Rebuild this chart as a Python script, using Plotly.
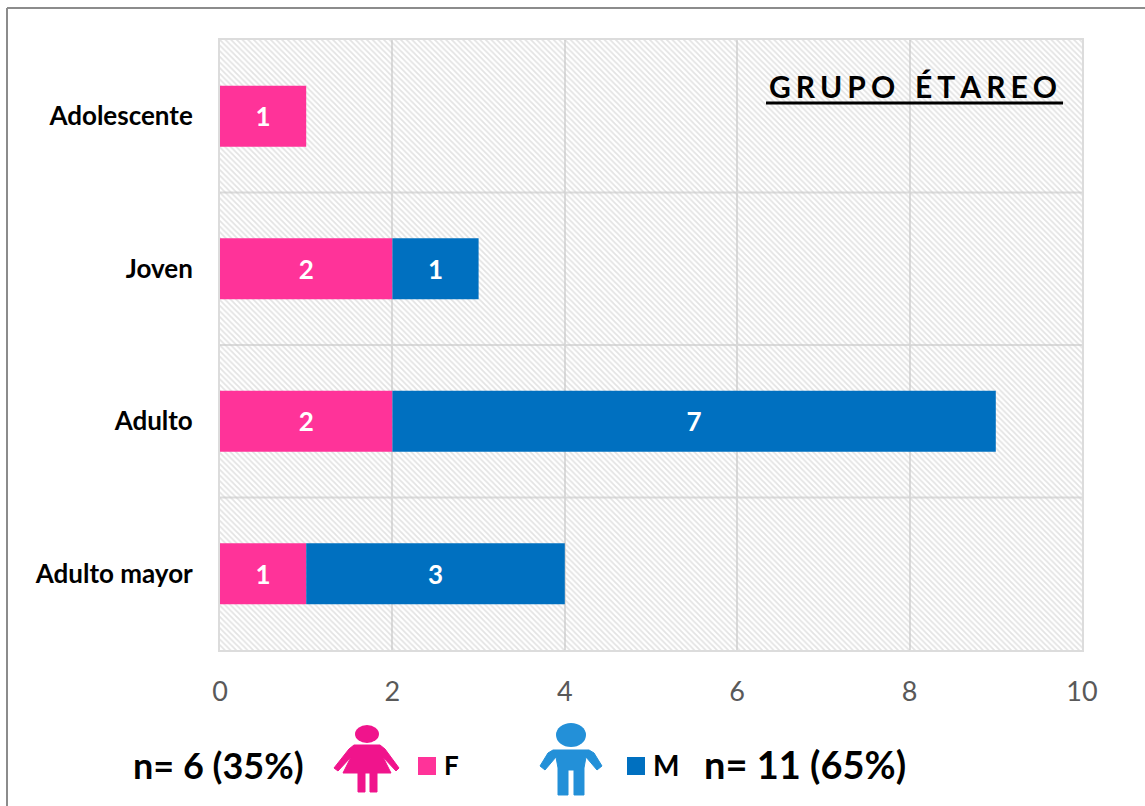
import plotly.graph_objects as go

# Data
categories = ["Adolescente", "Joven", "Adulto", "Adulto mayor"]
female = [1, 2, 2, 1]
male = [0, 1, 7, 3]
x_ticks = [0, 2, 4, 6, 8, 10]
x_max = 10
title_text = "G\u2006R\u2006U\u2006P\u2006O\u2006\u2006\u2006\u2006É\u2006T\u2006A\u2006R\u2006E\u2006O"
female_note = "n= 6 (35%)"
male_note = "n= 11 (65%)"

W, H = 1145, 806
PINK, BLUE = "#FF3399", "#0070C0"
FONT = "Lato"


def px(x):
    return x / W


def py(y):
    return 1 - y / H


def path(points):
    return "M " + " L ".join(f"{px(a):.5f},{py(b):.5f}" for a, b in points) + " Z"


def ellipse(cx, cy, rx, ry, color):
    return dict(type="circle", xref="paper", yref="paper", x0=px(cx - rx), x1=px(cx + rx),
                y0=py(cy + ry), y1=py(cy - ry), fillcolor=color, line_width=0, layer="above")


def poly(points, color):
    return dict(type="path", xref="paper", yref="paper", path=path(points), fillcolor=color,
                line=dict(color=color, width=1), layer="above")


def rect(x0, y0, x1, y1, color):
    return dict(type="rect", xref="paper", yref="paper", x0=px(x0), x1=px(x1), y0=py(y1), y1=py(y0),
                fillcolor=color, line_width=0, layer="above")


fig = go.Figure()
# hatched plot background
fig.add_bar(y=categories, x=[x_max] * len(categories), orientation="h", width=1, hoverinfo="skip",
            marker=dict(color="rgba(0,0,0,0)", line_width=0,
                        pattern=dict(shape="\\", fgcolor="#c8c8c8", bgcolor="rgba(0,0,0,0)",
                                     size=4, solidity=0.45, fillmode="overlay")),
            showlegend=False)
fig.add_bar(y=categories, x=female, name="F", orientation="h", width=0.4,
            marker=dict(color=PINK, line_width=0),
            text=[str(v) if v else "" for v in female], textposition="inside",
            insidetextanchor="middle", textangle=0, constraintext="none",
            textfont=dict(color="white", size=26, family=FONT, weight="bold"))
fig.add_bar(y=categories, x=male, base=female, name="M", orientation="h", width=0.4,
            marker=dict(color=BLUE, line_width=0),
            text=[str(v) if v else "" for v in male], textposition="inside",
            insidetextanchor="middle", textangle=0, constraintext="none",
            textfont=dict(color="white", size=26, family=FONT, weight="bold"))

woman = "#F0148C"
man = "#2390D8"
shapes = [
    # outer frame
    dict(type="line", xref="paper", yref="paper", x0=px(7), x1=px(7), y0=0, y1=py(8),
         line=dict(color="#8c8c8c", width=2)),
    dict(type="line", xref="paper", yref="paper", x0=px(7), x1=1, y0=py(8), y1=py(8),
         line=dict(color="#8c8c8c", width=2)),
    # title underline
    rect(766, 101.5, 1063, 104.5, "black"),
    # legend swatches
    rect(418, 757, 436, 775, PINK),
    rect(627, 757, 645, 775, BLUE),
    # woman icon
    ellipse(367, 734, 12, 9, woman),
    poly([(354, 745), (380, 745), (385, 749), (399, 768), (396, 771), (383, 757), (391, 773),
          (377, 773), (377, 792), (370, 792), (370, 773), (365, 773), (365, 792), (358, 792),
          (358, 773), (343, 773), (351, 757), (338, 771), (334, 768), (349, 749)], woman),
    # man icon
    ellipse(571, 735, 15, 12, man),
    poly([(553, 750), (589, 750), (594, 753), (602, 766), (597, 770), (586, 757), (584, 768),
          (584, 795), (574, 795), (574, 770), (568, 770), (568, 795), (558, 795), (558, 768),
          (556, 757), (545, 770), (540, 766), (548, 753)], man),
]

annotations = [
    dict(text=title_text, x=px(913), y=py(86), font=dict(size=30, color="black", family=FONT, weight="bold")),
    dict(text=female_note, x=px(218), y=py(765), font=dict(size=36, color="black", family=FONT, weight="bold")),
    dict(text=male_note, x=px(805), y=py(764), font=dict(size=38, color="black", family=FONT, weight="bold")),
    dict(text="F", x=px(451), y=py(765), font=dict(size=26, color="black", family=FONT, weight="bold")),
    dict(text="M", x=px(666), y=py(765), font=dict(size=28, color="black", family=FONT, weight="bold")),
]
for a in annotations:
    a.update(xref="paper", yref="paper", showarrow=False, xanchor="center", yanchor="middle")

fig.update_layout(
    width=W, height=H, margin=dict(l=0, r=0, t=0, b=0, autoexpand=False),
    barmode="overlay", showlegend=False,
    paper_bgcolor="white", plot_bgcolor="white",
    shapes=shapes, annotations=annotations,
    xaxis=dict(domain=[px(220), px(1082)], range=[0, x_max], tickvals=x_ticks,
               showgrid=True, gridcolor="#dcdcdc", gridwidth=2,
               showline=True, linecolor="#dcdcdc", linewidth=2, mirror=True, zeroline=False,
               tickfont=dict(size=27, color="#595959", family=FONT), ticks="", ticklabelstandoff=17),
    yaxis=dict(domain=[py(650), py(40)], autorange="reversed", categoryorder="array", categoryarray=categories,
               showgrid=False, showline=True, linecolor="#dcdcdc", linewidth=2, mirror=True, zeroline=False,
               tickfont=dict(size=26, color="black", family=FONT, weight="bold"), ticks="", ticklabelstandoff=20),
)
# horizontal separators between the category bands, on the category axis
for i in range(1, len(categories)):
    fig.add_shape(type="line", xref="x", yref="y", x0=0, x1=x_max, y0=i - 0.5, y1=i - 0.5,
                  line=dict(color="#dcdcdc", width=2), layer="below")

fig.write_html("out.html", config=dict(displayModeBar=False, responsive=False),
               post_script="document.body.style.margin='0';document.body.style.overflow='hidden';")
